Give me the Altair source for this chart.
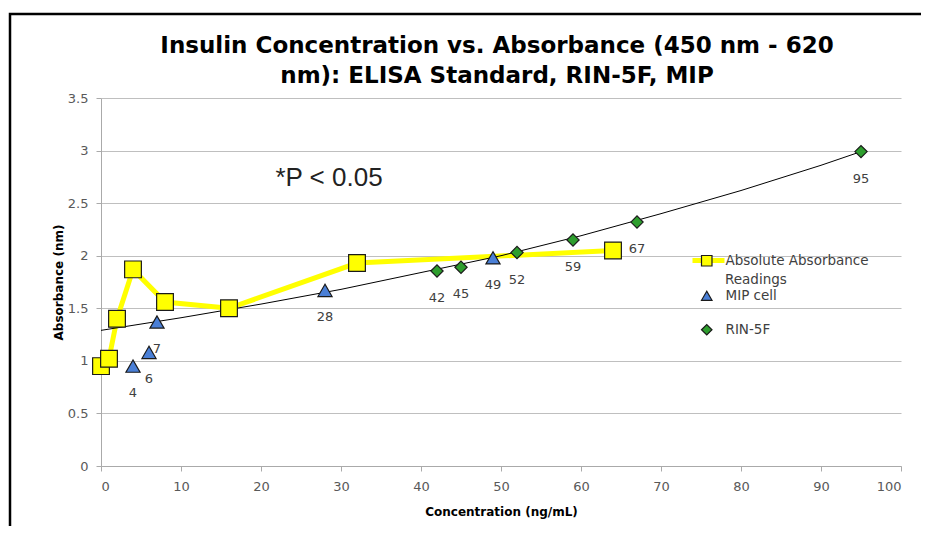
import altair as alt
import pandas as pd

# Absolute absorbance readings (ELISA standard)
std_x = [0, 1, 2, 4, 8, 16, 32, 64]
std_y = [0.95, 1.02, 1.40, 1.87, 1.56, 1.50, 1.93, 2.05]

# MIP cell
mip_x = [4, 6, 7, 28, 49]
mip_y = [0.95, 1.08, 1.37, 1.67, 1.98]
mip_labels = ["4", "6", "7", "28", "49"]

# RIN-5F
rin_x = [42, 45, 52, 59, 67, 95]
rin_y = [1.855, 1.89, 2.03, 2.15, 2.32, 2.99]
rin_labels = ["42", "45", "52", "59", "67", "95"]

# trendline
trend_x = [0, 10, 20, 30, 40, 50, 60, 70, 80, 90, 95]
trend_y = [1.29, 1.41, 1.54, 1.68, 1.84, 2.00, 2.19, 2.40, 2.62, 2.86, 2.99]

S1 = "Absolute Absorbance Readings"
S2 = "MIP cell"
S3 = "RIN-5F"
SERIES = [S1, S2, S3]
SHAPES = ["square", "triangle-up", "diamond"]
COLORS = ["#FFFF00", "#4A7FD6", "#2E9E2E"]

title_lines = ["Insulin Concentration vs. Absorbance (450 nm - 620",
               "nm): ELISA Standard, RIN-5F, MIP"]

FONT = "DejaVu Sans"

std = pd.DataFrame({"x": std_x, "y": std_y, "series": S1, "lab": ""})
mip = pd.DataFrame({"x": mip_x, "y": mip_y, "series": S2, "lab": mip_labels})
rin = pd.DataFrame({"x": rin_x, "y": rin_y, "series": S3, "lab": rin_labels})
lab_df = pd.concat([mip, rin], ignore_index=True)
std_line = std.assign(lseries=S1)
trend = pd.DataFrame({"x": trend_x, "y": trend_y})
ann = pd.DataFrame({"x": [28.5], "y": [2.74], "t": ["*P < 0.05"]})
one = pd.DataFrame({"a": [0]})

xs = alt.Scale(domain=[0, 100], nice=False)
ys = alt.Scale(domain=[0, 3.5], nice=False)

xax = alt.Axis(values=list(range(0, 101, 10)), title="Concentration (ng/mL)", grid=False,
               labelExpr="'' + datum.value")
yax = alt.Axis(values=[0, 0.5, 1, 1.5, 2, 2.5, 3, 3.5], title="Absorbance (nm)",
               labelExpr="'' + datum.value")

X = alt.X("x:Q", scale=xs, axis=xax)
Y = alt.Y("y:Q", scale=ys, axis=yax)

frame = alt.Chart(one).mark_rect(fill=None, stroke="black", strokeWidth=2.5).encode(
    x=alt.value(-91), x2=alt.value(960), y=alt.value(-84), y2=alt.value(600)
)

title1 = alt.Chart(one).mark_text(text=title_lines[0], fontSize=23, font=FONT, fontWeight="bold",
                                  color="#000000", baseline="alphabetic", align="center").encode(
    x=alt.value(396), y=alt.value(-45))
title2 = alt.Chart(one).mark_text(text=title_lines[1], fontSize=23, font=FONT, fontWeight="bold",
                                  color="#000000", baseline="alphabetic", align="center").encode(
    x=alt.value(396), y=alt.value(-15))

line = alt.Chart(std_line).mark_line(strokeWidth=5).encode(
    x=X, y=Y,
    stroke=alt.Stroke("lseries:N", scale=alt.Scale(domain=[S1], range=["#FFFF00"]),
                      legend=alt.Legend(orient="none", legendX=589, legendY=144, title=None,
                                        symbolType="stroke", symbolSize=1024, symbolStrokeWidth=5,
                                        labelExpr="''", labelFontSize=13)),
)

trendline = alt.Chart(trend).mark_line(color="black", strokeWidth=1).encode(x=X, y=Y)

leg = alt.Legend(orient="none", legendX=599, legendY=156, title=None,
                 labelFontSize=13.5, labelColor="#404040", labelFont=FONT,
                 symbolSize=110, symbolStrokeColor="#1a1a1a", symbolStrokeWidth=1.2,
                 rowPadding=19, labelOffset=12,
                 labelExpr="datum.label == '" + S1 + "' ? 'Absolute Absorbance' : datum.label")
cscale = alt.Scale(domain=SERIES, range=COLORS)
sscale = alt.Scale(domain=SERIES, range=SHAPES)


def point_layer(df, size):
    return alt.Chart(df).mark_point(filled=True, stroke="#1a1a1a", strokeWidth=1.2,
                                    opacity=1, size=size).encode(
        x=X, y=Y,
        color=alt.Color("series:N", scale=cscale, legend=leg),
        shape=alt.Shape("series:N", scale=sscale, legend=leg),
    )


p_std = point_layer(std, 280)
p_mip = point_layer(mip, 200)
p_rin = point_layer(rin, 150)

readings = alt.Chart(one).mark_text(text="Readings", fontSize=13.5, font=FONT, color="#404040",
                                    align="left", baseline="middle").encode(
    x=alt.value(624), y=alt.value(182))

labels = alt.Chart(lab_df).mark_text(dy=27, fontSize=13, color="#404040", font=FONT).encode(
    x=X, y=Y, text="lab:N"
)

note = alt.Chart(ann).mark_text(fontSize=26, font="Liberation Sans", color="#222222").encode(
    x=alt.X("x:Q", scale=xs), y=alt.Y("y:Q", scale=ys), text="t:N"
)

chart = alt.layer(frame, title1, title2, line, trendline, p_std, p_mip, p_rin,
                  labels, note, readings).properties(
    width=800, height=368,
    autosize=alt.AutoSizeParams(type="none"),
    padding={"left": 93, "top": 90, "right": 20, "bottom": 60},
).configure_view(stroke=None).configure_axis(
    labelFont=FONT, labelFontSize=13, labelColor="#595959",
    titleFont=FONT, titleFontSize=12, titleFontWeight="bold", titleColor="#000000",
    domainColor="#AAAAAA", tickColor="#AAAAAA", tickSize=5, gridColor="#BFBFBF",
).configure_axisY(titlePadding=2, labelPadding=8).configure_axisX(titlePadding=13, labelPadding=9)

chart.save("out.html", embed_options={"renderer": "svg", "actions": False})
